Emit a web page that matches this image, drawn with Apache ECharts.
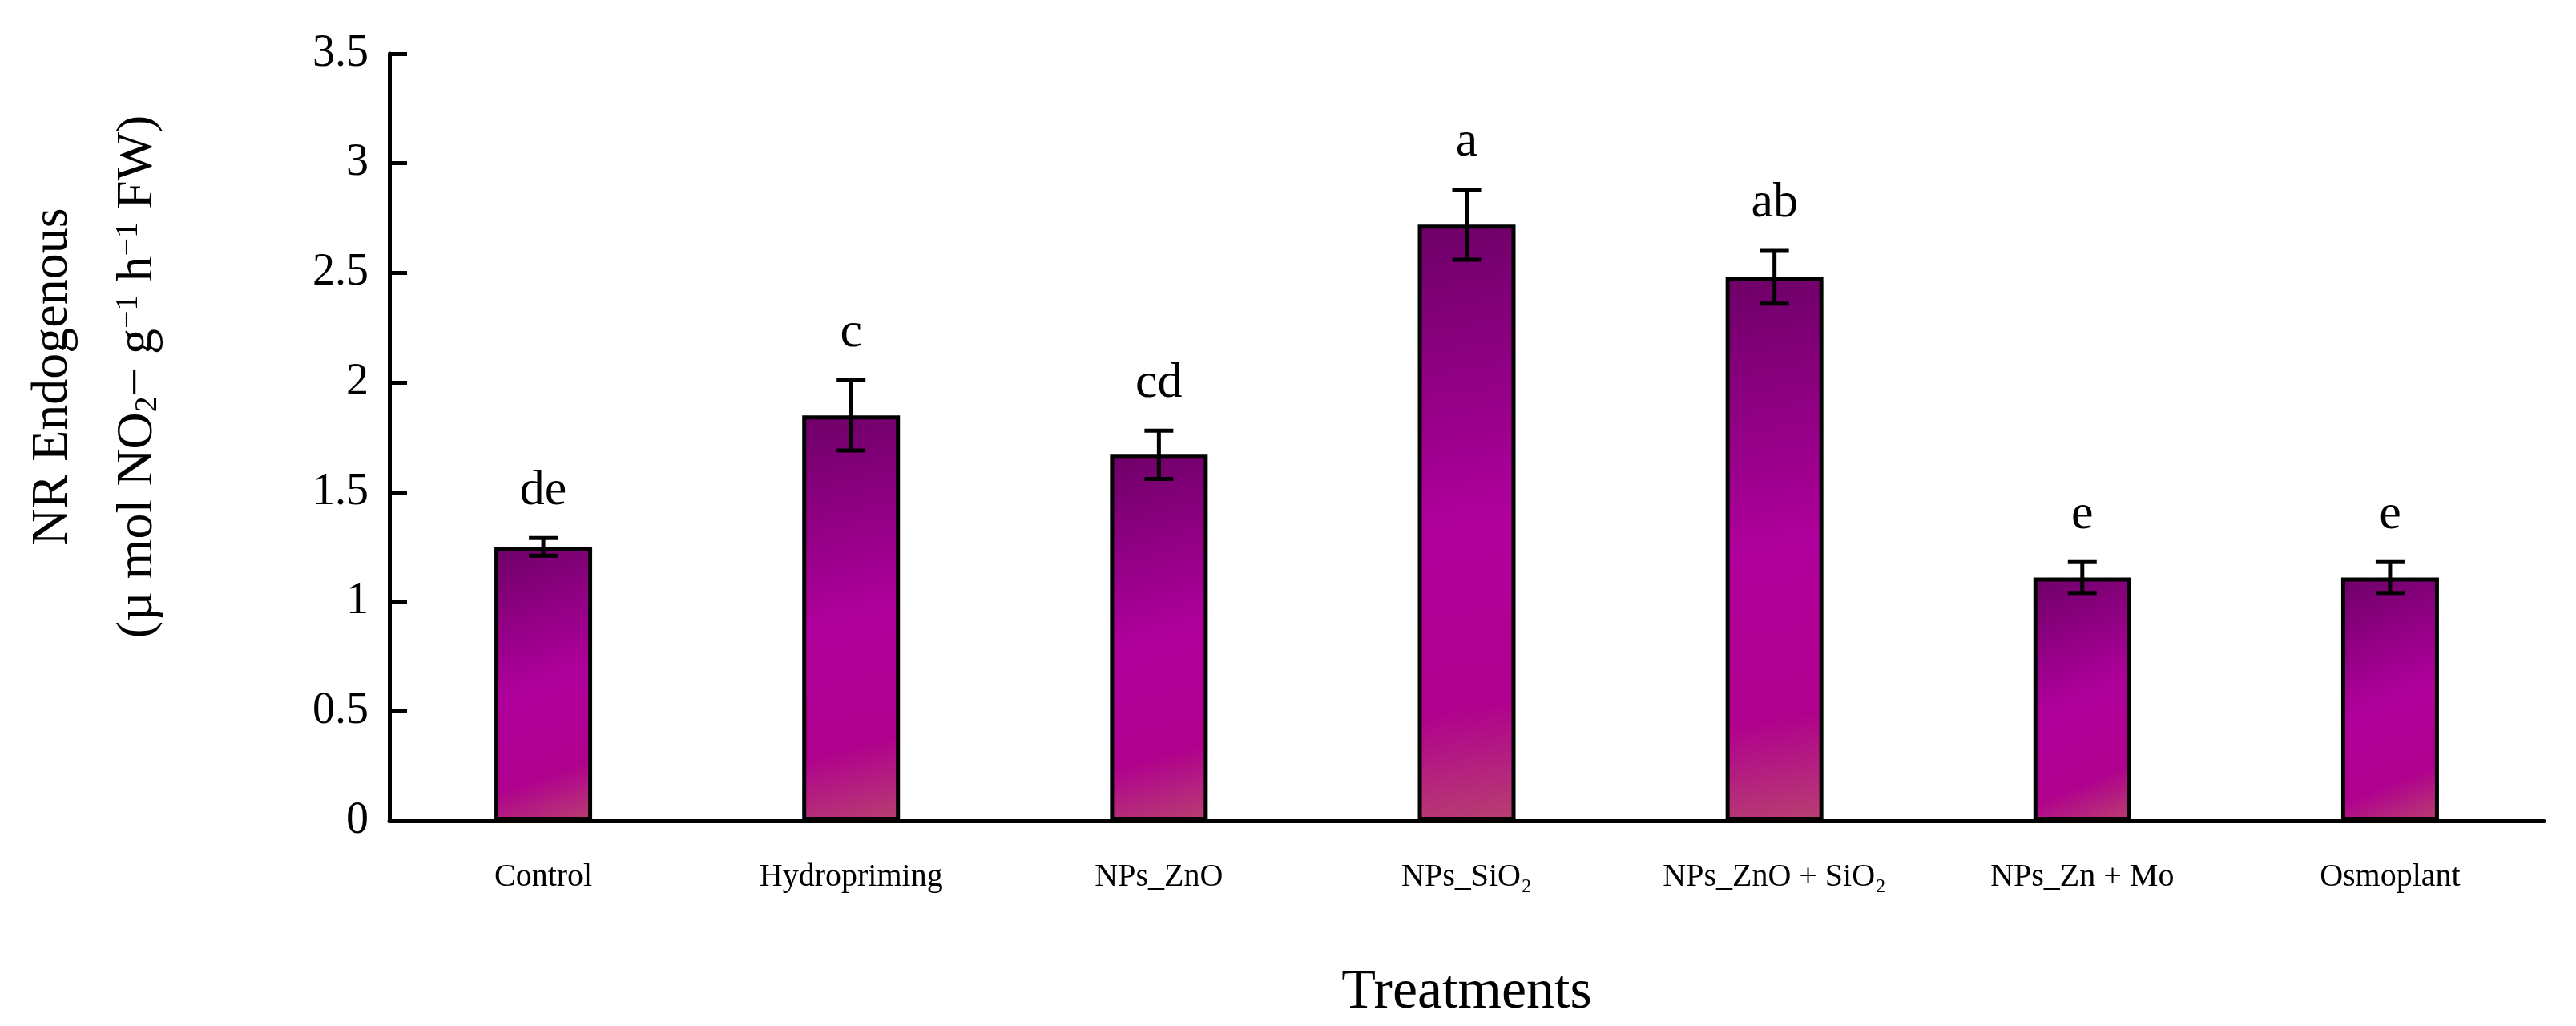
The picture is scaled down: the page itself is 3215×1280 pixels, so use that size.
<!DOCTYPE html>
<html><head><meta charset="utf-8">
<script src="https://cdn.jsdelivr.net/npm/echarts@6/dist/echarts.min.js"></script>
<style>html,body{margin:0;padding:0;background:#fff}#c{width:3215px;height:1280px}</style>
</head><body><div id="c"></div>
<script>
const categories = ['Control','Hydropriming','NPs_ZnO','NPs_SiO₂','NPs_ZnO + SiO₂','NPs_Zn + Mo','Osmoplant'];
const values = [1.25, 1.85, 1.67, 2.72, 2.48, 1.11, 1.11];
const errors = [0.04, 0.16, 0.11, 0.16, 0.12, 0.07, 0.07];
const letters = ['de','c','cd','a','ab','e','e'];
const yTicks = ['0','0.5','1','1.5','2','2.5','3','3.5'];

const F = 'Liberation Serif, DejaVu Serif, serif';
const chart = echarts.init(document.getElementById('c'));
const grad = new echarts.graphic.LinearGradient(0,0,1,1,[
  {offset:0,color:'#6e0068'},{offset:0.5,color:'#b0009c'},{offset:0.8,color:'#b0008e'},{offset:1,color:'#b84070'}]);
chart.setOption({
  animation:false,
  grid:{left:486,right:40,top:67,bottom:256},
  xAxis:{type:'category',data:categories,
    axisLine:{lineStyle:{color:'#000',width:5}},axisTick:{show:false},
    axisLabel:{color:'#000',fontFamily:F,fontSize:40,margin:50},
    name:'Treatments',nameLocation:'middle',nameGap:180,
    nameTextStyle:{color:'#000',fontFamily:F,fontSize:70}},
  yAxis:{type:'value',min:0,max:3.5,interval:0.5,
    axisLine:{show:true,lineStyle:{color:'#000',width:5}},
    axisTick:{show:true,inside:true,length:22,lineStyle:{color:'#000',width:5}},
    splitLine:{show:false},
    axisLabel:{color:'#000',fontFamily:F,fontSize:56,margin:26,formatter:(v,i)=>yTicks[i]}},
  graphic:[
    {type:'text',left:28,top:'center',rotation:Math.PI/2,style:{text:'NR Endogenous',font:'64px '+F,fill:'#000',textAlign:'center',textVerticalAlign:'middle'},x:66,y:470,left:null,top:null},
    {type:'text',rotation:Math.PI/2,x:172,y:470,style:{
      text:'(µ mol NO{sub|2}− g{sup|−1} h{sup|−1} FW)',font:'64px '+F,fill:'#000',align:'center',verticalAlign:'middle',
      rich:{sub:{fontSize:40,fontFamily:F,verticalAlign:'bottom',padding:[0,0,0,0]},sup:{fontSize:40,fontFamily:F,verticalAlign:'top'}}}}
  ],
  series:[
    {type:'bar',data:values,barWidth:122,
     itemStyle:{color:grad,borderColor:'#000',borderWidth:5}},
    {type:'custom',data:values.map((v,i)=>[i,v,errors[i],letters[i]]),z:5,
     renderItem:(p,api)=>{
       const i=api.value(0),v=api.value(1),e=api.value(2);
       const t=api.coord([i,v+e]),b=api.coord([i,v-e]);const w=18;
       const st={stroke:'#000',lineWidth:5};
       return {type:'group',children:[
         {type:'line',shape:{x1:t[0],y1:t[1],x2:b[0],y2:b[1]},style:st},
         {type:'line',shape:{x1:t[0]-w,y1:t[1],x2:t[0]+w,y2:t[1]},style:st},
         {type:'line',shape:{x1:b[0]-w,y1:b[1],x2:b[0]+w,y2:b[1]},style:st},
         {type:'text',x:t[0],y:t[1]-28,style:{text:letters[i],font:'62px '+F,fill:'#000',align:'center',verticalAlign:'bottom'}}
       ]};
     }}
  ]
});
</script></body></html>
